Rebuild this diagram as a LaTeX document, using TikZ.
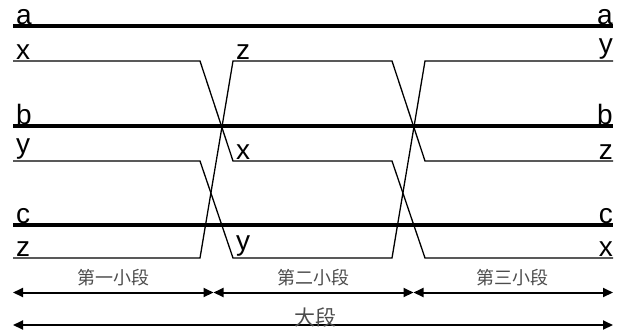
\documentclass[tikz,border=0pt]{standalone}
\usepackage{fontspec}
\setmainfont{Liberation Sans}
\newfontfamily\cjk{Noto Sans CJK SC}
\usetikzlibrary{arrows.meta}
\begin{document}
\begin{tikzpicture}[x=1pt,y=-1pt,
  bus/.style={line width=3.4pt},
  wire/.style={line width=1.3pt, line join=miter},
  lbl/.style={font=\fontsize{28}{28}\selectfont, inner sep=1pt},
  dim/.style={line width=2pt, {Triangle[length=10pt,width=9pt]}-{Triangle[length=10pt,width=9pt]}},
  seg/.style={font=\cjk\fontsize{18}{18}\selectfont, text=black!70, inner sep=0pt}
]
\useasboundingbox (0,0) rectangle (618,333);
% bus lines
\coordinate (aL) at (13,26);  \coordinate (aR) at (613,26);
\coordinate (bL) at (13,126); \coordinate (bR) at (613,126);
\coordinate (cL) at (13,225); \coordinate (cR) at (613,225);
\draw[bus] (aL) -- (aR);
\draw[bus] (bL) -- (bR);
\draw[bus] (cL) -- (cR);
% wire corner points
\coordinate (x0) at (13,61);  \coordinate (x1) at (200,61);  \coordinate (x2) at (233,161);
\coordinate (x3) at (392,161); \coordinate (x4) at (425,258); \coordinate (x5) at (613,258);
\coordinate (y0) at (13,161); \coordinate (y1) at (200,161); \coordinate (y2) at (233,258);
\coordinate (y3) at (392,258); \coordinate (y4) at (425,61);  \coordinate (y5) at (613,61);
\coordinate (z0) at (13,258); \coordinate (z1) at (200,258); \coordinate (z2) at (233,61);
\coordinate (z3) at (392,61);  \coordinate (z4) at (425,161); \coordinate (z5) at (613,161);
\draw[wire] (x0) -- (x1) -- (x2) -- (x3) -- (x4) -- (x5);
\draw[wire] (y0) -- (y1) -- (y2) -- (y3) -- (y4) -- (y5);
\draw[wire] (z0) -- (z1) -- (z2) -- (z3) -- (z4) -- (z5);
% left labels
\node[lbl, anchor=south west] (la) at (15,26) {a};
\node[lbl, anchor=south west] (lx) at (15,61) {x};
\node[lbl, anchor=south west] (lb) at (15,126) {b};
\node[lbl, anchor=south west] (ly) at (15,161) {y};
\node[lbl, anchor=south west] (lc) at (15,225) {c};
\node[lbl, anchor=south west] (lz) at (15,258) {z};
% middle labels
\node[lbl, anchor=south west] (mz) at (235,61) {z};
\node[lbl, anchor=south west] (mx) at (235,161) {x};
\node[lbl, anchor=south west] (my) at (235,258) {y};
% right labels
\node[lbl, anchor=south east] (ra) at (614,26) {a};
\node[lbl, anchor=south east] (ry) at (614,61) {y};
\node[lbl, anchor=south east] (rb) at (614,126) {b};
\node[lbl, anchor=south east] (rz) at (614,161) {z};
\node[lbl, anchor=south east] (rc) at (614,225) {c};
\node[lbl, anchor=south east] (rx) at (614,258) {x};
% dimension arrows
\coordinate (d0) at (13,292.5);
\coordinate (d1) at (213.5,292.5);
\coordinate (d2) at (413.5,292.5);
\coordinate (d3) at (613,292.5);
\coordinate (e0) at (13,325);
\coordinate (e1) at (613,325);
\draw[dim] (d0) -- (d1);
\draw[dim] (d1) -- (d2);
\draw[dim] (d2) -- (d3);
\draw[dim] (e0) -- (e1);
\node[seg] (s1) at (113,278) {第一小段};
\node[seg] (s2) at (313,278) {第二小段};
\node[seg] (s3) at (512,278) {第三小段};
\node[seg, font=\cjk\fontsize{21}{21}\selectfont] (s0) at (315,317) {大段};
\end{tikzpicture}
\end{document}
